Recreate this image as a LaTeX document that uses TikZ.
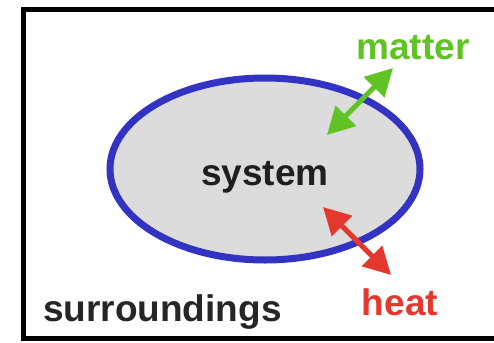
\documentclass[tikz,border=0pt]{standalone}
\usepackage{fontspec}
\setmainfont{Liberation Sans}
\usetikzlibrary{arrows.meta, positioning, shapes.geometric}
\definecolor{meuazul}{RGB}{50, 50, 195}
\definecolor{meuverde}{RGB}{95, 195, 35}
\definecolor{meuvermelho}{RGB}{228, 55, 45}
\definecolor{meucinza}{RGB}{220, 220, 220}

\begin{document}
\begin{tikzpicture}[
    x=1pt, y=-1pt,
    font=\fontsize{37}{40}\selectfont\bfseries,
    rotulo/.style={anchor=base, inner sep=0pt},
    sistema/.style={draw=meuazul, line width=7pt, fill=meucinza, ellipse, minimum width=310pt, minimum height=182pt, inner sep=0pt},
    troca/.style={{Triangle[length=27pt, width=28pt]}-{Triangle[length=27pt, width=28pt]}, line width=5pt},
]

% ── Moldura ───────────────────────────────────────
\useasboundingbox (0,0) rectangle (494,342);
\fill[white] (0,0) rectangle (494,342);
\draw[line width=5pt] (23,10) rectangle (500,338);

% ── Sistema (elipse) ──────────────────────────────
\node[sistema] (system) at (265,169) {};
\node[rotulo, text=black!88] (systemlbl) at (265,185) {system};

% Rótulos externos
\node[rotulo, text=meuverde] (matter) at (413,60) {matter};
\node[rotulo, text=meuvermelho] (heat) at (400,315) {heat};
\node[rotulo, anchor=base west, text=black!85] (surr) at (43,321) {surroundings};

% ── Setas de troca ────────────────────────────────
\coordinate (mA) at (327,135);
\coordinate (mB) at (393,68);
\coordinate (hA) at (323,207);
\coordinate (hB) at (391,275);
\draw[troca, color=meuverde]    (mA) -- (mB);
\draw[troca, color=meuvermelho] (hA) -- (hB);

\end{tikzpicture}
\end{document}
